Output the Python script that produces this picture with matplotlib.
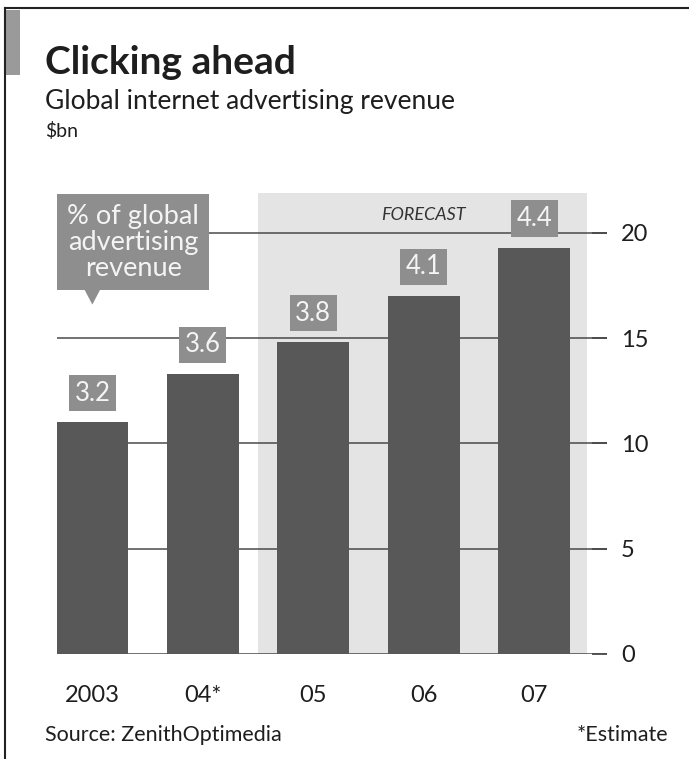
import matplotlib
matplotlib.use('Agg')
import matplotlib.pyplot as plt
from matplotlib.patches import Rectangle, Polygon
import numpy as np

years = ['2003', '04*', '05', '06', '07']
revenue = [11.0, 13.3, 14.8, 17.0, 19.3]      # $bn
share = ['3.2', '3.6', '3.8', '4.1', '4.4']    # % of global advertising revenue
yticks = [0, 5, 10, 15, 20]

plt.rcParams['font.family'] = ['Lato', 'DejaVu Sans']

bar_col = '#585858'
box_col = '#8e8e8e'
shade_col = '#e4e4e4'
grid_col = '#4a4a4a'
text_col = '#1e1e1e'

fig = plt.figure(figsize=(6.89, 7.59), dpi=100)
ax = fig.add_axes([57 / 689, 1 - 654 / 759, 550 / 689, 461 / 759])

x = np.arange(len(years))
ax.set_xlim(-0.32, 4.66)
ax.set_ylim(0, 21.9)

# forecast shading
ax.axvspan(1.5, 4.48, color=shade_col, zorder=0, lw=0)
ax.text(3.0, 20.85, 'FORECAST', style='italic', fontsize=13, color='#333333',
        ha='center', va='center', zorder=2)

# gridlines
for t in yticks:
    ax.axhline(t, color=grid_col, lw=1.1, zorder=1)

ax.bar(x, revenue, width=0.65, color=bar_col, zorder=3)

for xi, v, s in zip(x, revenue, share):
    ax.text(xi, v + 0.8, s, ha='center', va='bottom', fontsize=18.5, color='#f4f4f4',
            zorder=4, bbox=dict(boxstyle='square,pad=0.22', fc=box_col, ec='none'))

# callout box
ax.add_patch(Rectangle((-0.32, 17.3), 1.38, 4.55, fc=box_col, ec='none', zorder=5))
ax.add_patch(Polygon([[-0.07, 17.3], [0.07, 17.3], [0.0, 16.6]], closed=True,
                     fc=box_col, ec='none', zorder=5))
ax.text(0.37, 19.55, '% of global\nadvertising\nrevenue', ha='center', va='center',
        fontsize=19.5, color='#f4f4f4', linespacing=1.05, zorder=6)

ax.set_xticks(x)
ax.set_xticklabels(years, fontsize=17, color=text_col)
ax.tick_params(axis='x', length=0, pad=22)
ax.yaxis.tick_right()
ax.set_yticks(yticks)
ax.set_yticklabels([str(t) for t in yticks], fontsize=17, color=text_col)
ax.tick_params(axis='y', direction='in', length=11, width=1.3, color=grid_col, pad=10)
for sp in ax.spines.values():
    sp.set_visible(False)

# headings and frame
fig.text(45 / 689, 1 - 62 / 759, 'Clicking ahead', fontsize=28, fontweight='bold',
         color=text_col, va='center')
fig.text(45 / 689, 1 - 101 / 759, 'Global internet advertising revenue', fontsize=19,
         color=text_col, va='center')
fig.text(45 / 689, 1 - 131 / 759, '$bn', fontsize=14, color=text_col, va='center')
fig.text(45 / 689, 1 - 735 / 759, 'Source: ZenithOptimedia', fontsize=15.5,
         color=text_col, va='center')
fig.text(668 / 689, 1 - 735 / 759, '*Estimate', fontsize=15.5, color=text_col,
         va='center', ha='right')

fig.add_artist(Rectangle((5 / 689, 1 - 75 / 759), 15 / 689, 65 / 759,
                         transform=fig.transFigure, fc='#9a9a9a', ec='none'))
fig.add_artist(plt.Line2D([5 / 689, 5 / 689], [0, 1 - 8 / 759],
                          transform=fig.transFigure, color='#222222', lw=1.5))
fig.add_artist(plt.Line2D([5 / 689, 1], [1 - 8 / 759, 1 - 8 / 759],
                          transform=fig.transFigure, color='#222222', lw=1.5))

fig.savefig('out.png', dpi=100)
